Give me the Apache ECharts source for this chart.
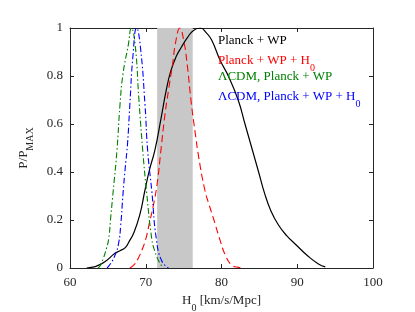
<!DOCTYPE html>
<html>
<head>
<meta charset="utf-8">
<script src="https://cdn.jsdelivr.net/npm/echarts@6/dist/echarts.min.js"></script>
<style>html,body{margin:0;padding:0;background:#fff}#c{width:415px;height:312px}</style>
</head>
<body>
<div id="c"></div>
<script>
// ---- data ----
const xTicks = [60, 70, 80, 90, 100];
const yTicks = [0, 0.2, 0.4, 0.6, 0.8, 1];
const bandRange = [71.5, 76.2]; // grey H0 prior band

const labels = ['Planck + WP', 'Planck + WP + H0', 'ΛCDM, Planck + WP', 'ΛCDM, Planck + WP + H0'];

// Planck + WP (black solid)
const blackX = [62.2, 63.0, 63.5, 64.6, 65.9, 66.6, 67.3, 67.8, 68.4, 69.2, 69.9, 70.5, 71.2, 72.0, 72.7, 73.3, 74.0, 74.7, 75.5, 76.3, 77.2, 78.0, 78.7, 79.8, 80.9, 82.2, 83.1, 84.0, 84.9, 85.7, 86.5, 87.5, 88.6, 89.9, 91.4, 92.8, 93.7];
const blackY = [0, 0.004, 0.008, 0.026, 0.06, 0.072, 0.085, 0.11, 0.145, 0.22, 0.325, 0.41, 0.49, 0.62, 0.74, 0.82, 0.88, 0.92, 0.96, 0.99, 1.0, 0.98, 0.95, 0.867, 0.80, 0.70, 0.60, 0.50, 0.40, 0.31, 0.24, 0.18, 0.135, 0.095, 0.05, 0.017, 0.005];

// Planck + WP + H0 (red dashed)
const redX = [67.9, 68.5, 69.0, 69.5, 70.0, 70.5, 71.0, 71.5, 72.0, 72.5, 73.0, 73.5, 74.0, 74.5, 75.0, 75.5, 76.0, 76.5, 77.0, 77.8, 78.4, 79.0, 79.8, 80.5, 81.3, 82.0, 83.0];
const redY = [0, 0.015, 0.04, 0.075, 0.12, 0.19, 0.26, 0.35, 0.49, 0.63, 0.74, 0.84, 0.95, 1.0, 0.95, 0.84, 0.69, 0.57, 0.46, 0.325, 0.26, 0.20, 0.117, 0.054, 0.013, 0.004, 0];

// LCDM, Planck + WP (green dash-dot)
const greenX = [63.7, 64.0, 64.4, 64.8, 65.1, 65.4, 65.7, 66.2, 66.6, 67.0, 67.7, 68.1, 68.6, 69.1, 69.6, 70.1, 70.8, 71.2, 71.7, 72.3];
const greenY = [0, 0.01, 0.04, 0.08, 0.12, 0.22, 0.32, 0.49, 0.68, 0.81, 0.93, 1.0, 0.93, 0.70, 0.49, 0.32, 0.12, 0.07, 0.03, 0];

// LCDM, Planck + WP + H0 (blue dash-dot)
const blueX = [64.9, 65.4, 65.9, 66.4, 66.7, 67.0, 67.3, 67.6, 67.9, 68.3, 68.8, 69.3, 69.9, 70.25, 70.8, 71.4, 72.1, 73.0];
const blueY = [0, 0.02, 0.05, 0.10, 0.18, 0.31, 0.42, 0.52, 0.68, 0.88, 1.0, 0.92, 0.68, 0.49, 0.32, 0.12, 0.03, 0];

// ---- chart ----
const zip = (xs, ys) => xs.map((x, i) => [x, ys[i]]);
const FONT = '"Liberation Serif", "DejaVu Serif", serif';
const AX = '#262626';

const chart = echarts.init(document.getElementById('c'), null, {renderer: 'canvas'});

const richSub = {
  m: {fontFamily: FONT, fontSize: 13, lineHeight: 14, verticalAlign: 'top'},
  sub: {fontFamily: FONT, fontSize: 10, lineHeight: 10, padding: [9, 0, 0, 0], verticalAlign: 'top'}
};
function legendRich(color) {
  return {
    m: Object.assign({}, richSub.m, {fill: color}),
    sub: Object.assign({}, richSub.sub, {fill: color})
  };
}
const legendColors = ['#000000', '#ff0000', '#008000', '#0000ff'];
const legendTops = [34.5, 54.5, 70, 90];

const baseX = {
  type: 'value', min: xTicks[0], max: xTicks[xTicks.length - 1], interval: 10,
  axisLine: {show: true, onZero: false, lineStyle: {color: AX, width: 1}},
  axisTick: {show: true, inside: true, length: 4, lineStyle: {color: AX}},
  splitLine: {show: false}
};
const baseY = {
  type: 'value', min: yTicks[0], max: yTicks[yTicks.length - 1], interval: 0.2,
  axisLine: {show: true, onZero: false, lineStyle: {color: AX, width: 1}},
  axisTick: {show: true, inside: true, length: 4, lineStyle: {color: AX}},
  splitLine: {show: false}
};
const lineCommon = {type: 'line', z: 3, symbol: 'none', smooth: 0.5, silent: true};

chart.setOption({
  animation: false,
  backgroundColor: '#ffffff',
  grid: {left: 70, right: 42, top: 28, bottom: 44, containLabel: false, outerBoundsMode: 'none'},
  xAxis: [
    Object.assign({}, baseX, {
      position: 'bottom',
      axisLabel: {show: true, margin: 8, color: AX, fontFamily: FONT, fontSize: 13},
      name: '{m|H}{sub|0}{m| [km/s/Mpc]}',
      nameLocation: 'middle', nameGap: 25,
      nameTextStyle: {color: AX, fontFamily: FONT, fontSize: 13, rich: {
        m: Object.assign({}, richSub.m, {color: AX}),
        sub: Object.assign({}, richSub.sub, {color: AX})
      }}
    }),
    Object.assign({}, baseX, {position: 'top', axisLabel: {show: false}})
  ],
  yAxis: [
    Object.assign({}, baseY, {
      position: 'left',
      axisLabel: {show: true, margin: 7, color: AX, fontFamily: FONT, fontSize: 13},
      name: '{m|P/P}{sub|MAX}',
      nameLocation: 'middle', nameGap: 28,
      nameTextStyle: {color: AX, fontFamily: FONT, fontSize: 13, rich: {
        m: Object.assign({}, richSub.m, {color: AX}),
        sub: Object.assign({}, richSub.sub, {color: AX})
      }}
    }),
    Object.assign({}, baseY, {position: 'right', axisLabel: {show: false}})
  ],
  series: [
    {
      type: 'line', name: 'band', z: 1, silent: true,
      data: [[bandRange[0], 0]], symbol: 'none', lineStyle: {width: 0},
      markArea: {silent: true, itemStyle: {color: '#c8c8c8'},
        data: [[{xAxis: bandRange[0], yAxis: yTicks[0]}, {xAxis: bandRange[1], yAxis: yTicks[yTicks.length - 1]}]]}
    },
    Object.assign({}, lineCommon, {name: labels[0], data: zip(blackX, blackY),
      lineStyle: {color: '#000000', width: 1.2}}),
    Object.assign({}, lineCommon, {name: labels[1], data: zip(redX, redY),
      lineStyle: {color: '#ff0000', width: 1.1, type: [7, 4]}}),
    Object.assign({}, lineCommon, {name: labels[2], data: zip(greenX, greenY),
      lineStyle: {color: '#008000', width: 1.1, type: [6, 2.5, 1.5, 2.5]}}),
    Object.assign({}, lineCommon, {name: labels[3], data: zip(blueX, blueY),
      lineStyle: {color: '#0000ff', width: 1.1, type: [6, 2.5, 1.5, 2.5]}})
  ],
  graphic: labels.map((t, i) => ({
    type: 'text', left: 218, top: legendTops[i], z: 10, silent: true,
    style: {
      text: /H0$/.test(t) ? '{m|' + t.slice(0, -2) + 'H}{sub|0}' : '{m|' + t + '}',
      rich: legendRich(legendColors[i])
    }
  }))
});
</script>
</body>
</html>
